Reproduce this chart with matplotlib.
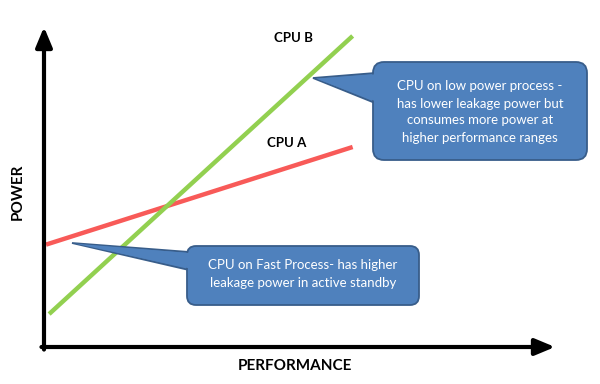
import matplotlib
matplotlib.use("Agg")
import matplotlib.pyplot as plt
import matplotlib.transforms as mtransforms
from matplotlib.patches import FancyBboxPatch, Polygon

plt.rcParams['font.family'] = ['Lato', 'DejaVu Sans']

# Data (performance 0-100, power 0-100)
cpu_a_perf = [0.4, 60.4]
cpu_a_power = [32.0, 62.5]
cpu_b_perf = [1.0, 60.4]
cpu_b_power = [10.3, 97.2]

series_labels = ["CPU A", "CPU B"]
x_label = "PERFORMANCE"
y_label = "POWER"
note_a = "CPU on Fast Process- has higher\nleakage power in active standby"
note_b = "CPU on low power process -\nhas lower leakage power but\nconsumes more power at\nhigher performance ranges"

W, H = 600, 384
fig = plt.figure(figsize=(W / 100, H / 100), dpi=100)
ax = fig.add_axes([44 / W, (H - 347) / H, (555 - 44) / W, (347 - 27) / H])
ax.set_xlim(0, 100)
ax.set_ylim(0, 100)
ax.set_axis_off()

# pixel transform (top-left origin)
px = mtransforms.Affine2D().scale(1 / W, -1 / H).translate(0, 1) + fig.transFigure

# axes arrows
arrow_kw = dict(arrowstyle="-|>,head_length=1.2,head_width=0.5", lw=3, color="black",
                shrinkA=0, shrinkB=0)
ax.annotate("", xy=(0, 1.0), xytext=(0, -0.008), xycoords="axes fraction",
            arrowprops=arrow_kw, annotation_clip=False)
ax.annotate("", xy=(1.0, 0), xytext=(-0.005, 0), xycoords="axes fraction",
            arrowprops=arrow_kw, annotation_clip=False)

# lines
ax.plot(cpu_a_perf, cpu_a_power, color="#F85A58", lw=3.2, solid_capstyle="butt", zorder=2)
ax.plot(cpu_b_perf, cpu_b_power, color="#92D050", lw=3.2, solid_capstyle="butt", zorder=2)

# labels
fig.text(287 / W, 1 - 143 / H, series_labels[0], ha="center", va="center",
         fontsize=9.5, fontweight="bold")
fig.text(293 / W, 1 - 38 / H, series_labels[1], ha="center", va="center",
         fontsize=9.5, fontweight="bold")
fig.text(295 / W, 1 - 366 / H, x_label, ha="center", va="center", fontsize=11,
         fontweight="bold")
fig.text(18 / W, 1 - 192 / H, y_label, ha="center", va="center", fontsize=11,
         fontweight="bold", rotation=90)

fill = "#4F81BD"
edge = "#385D8A"


def callout(x0, y0, x1, y1, tip, base_top, base_bot, text, rad, cx, cy, ls):
    wedge_pts = [tip, (x0 + 2, base_top), (x0 + 2, base_bot)]
    fig.patches.append(Polygon(wedge_pts, closed=True, facecolor=fill, edgecolor=edge,
                               lw=1.3, transform=px, zorder=3))
    fig.patches.append(FancyBboxPatch((x0, y0), x1 - x0, y1 - y0,
                                      boxstyle=f"round,pad=0,rounding_size={rad}",
                                      facecolor=fill, edgecolor=edge, lw=1.3,
                                      transform=px, zorder=4))
    inner = [(tip[0] + 3, tip[1] + 0.6), (x0 + 4, base_top + 1.2), (x0 + 4, base_bot - 1.2)]
    fig.patches.append(Polygon(inner, closed=True, facecolor=fill, edgecolor="none",
                               transform=px, zorder=5))
    fig.text(cx / W, 1 - cy / H, text, ha="center", va="center", color="white",
             fontsize=9.5, linespacing=ls, zorder=6)


callout(187, 246, 419, 305, (72, 243), 252, 270, note_a, 9, 303, 274, 1.6)
callout(373, 62, 587, 160, (313, 78), 73, 103, note_b, 11, 480, 112, 1.5)

fig.savefig("out.png", dpi=100)
